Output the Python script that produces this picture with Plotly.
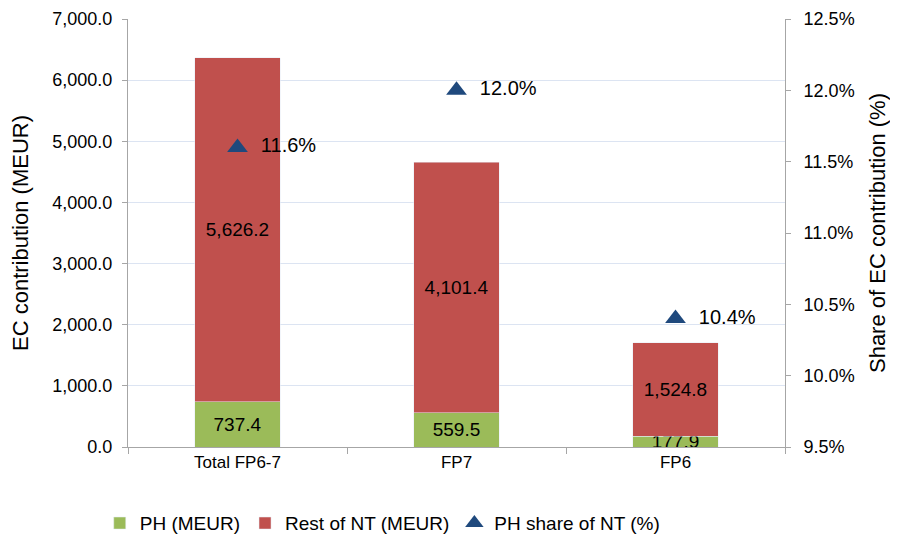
import plotly.graph_objects as go

categories = ["Total FP6-7", "FP7", "FP6"]
ph_meur = [737.4, 559.5, 177.9]
rest_nt_meur = [5626.2, 4101.4, 1524.8]
ph_share_pct = [11.6, 12.0, 10.4]

FONT = "Liberation Sans"
GREEN = "#9BBB59"
RED = "#C0504D"
BLUE = "#1F497D"
GRID = "#DCE4F2"
AXIS = "#A6A6A6"

fig = go.Figure()
fig.add_trace(go.Bar(
    x=categories, y=ph_meur, name="PH (MEUR)", marker_color=GREEN,
    text=[f"{v:,.1f}" for v in ph_meur], textposition="inside",
    insidetextanchor="middle", constraintext="none", textangle=0,
    textfont=dict(color="#000000", size=19, family=FONT),
))
fig.add_trace(go.Bar(
    x=categories, y=rest_nt_meur, name="Rest of NT (MEUR)", marker_color=RED,
    text=[f"{v:,.1f}" for v in rest_nt_meur], textposition="inside",
    insidetextanchor="middle", constraintext="none", textangle=0,
    textfont=dict(color="#000000", size=19, family=FONT),
))
fig.add_trace(go.Scatter(
    x=categories, y=ph_share_pct, name="PH share of NT (%)", yaxis="y2",
    mode="markers+text", marker=dict(symbol="triangle-up", size=18, color=BLUE),
    text=[f"  {v:.1f}%" for v in ph_share_pct], textposition="middle right",
    textfont=dict(color="#000000", size=20, family=FONT),
))

fig.update_layout(
    width=898, height=541,
    margin=dict(l=120, r=121, t=11, b=102, autoexpand=False),
    barmode="stack", bargap=0.61,
    plot_bgcolor="white", paper_bgcolor="white",
    font=dict(family=FONT, size=16, color="#000000"),
    showlegend=True,
    legend=dict(orientation="h", x=-0.043, xanchor="left", y=-0.178, yanchor="middle",
                font=dict(size=19), traceorder="normal"),
    xaxis=dict(showline=True, linecolor=AXIS, linewidth=1, ticks="outside",
               tickson="boundaries", ticklen=6, tickcolor=AXIS,
               tickfont=dict(size=17), automargin=False),
    yaxis=dict(range=[0, 7000], dtick=1000, tickformat=",.1f",
               showgrid=True, gridcolor=GRID, showline=True, linecolor=AXIS,
               ticks="outside", ticklen=5, tickcolor=AXIS, tickfont=dict(size=18),
               ticklabelstandoff=6,
               zeroline=False, automargin=False,
               title=dict(text="EC contribution (MEUR)", font=dict(size=22), standoff=22)),
    yaxis2=dict(range=[9.5, 12.5], dtick=0.5, tickformat=".1f", ticksuffix="%",
                overlaying="y", side="right", showgrid=False, showline=True,
                linecolor=AXIS, ticks="outside", ticklen=5, tickcolor=AXIS,
                tickfont=dict(size=18), ticklabelstandoff=9,
                zeroline=False, automargin=False,
                title=dict(text="Share of EC contribution (%)", font=dict(size=22), standoff=15)),
    hovermode=False,
)

fig.write_html("out.html")
